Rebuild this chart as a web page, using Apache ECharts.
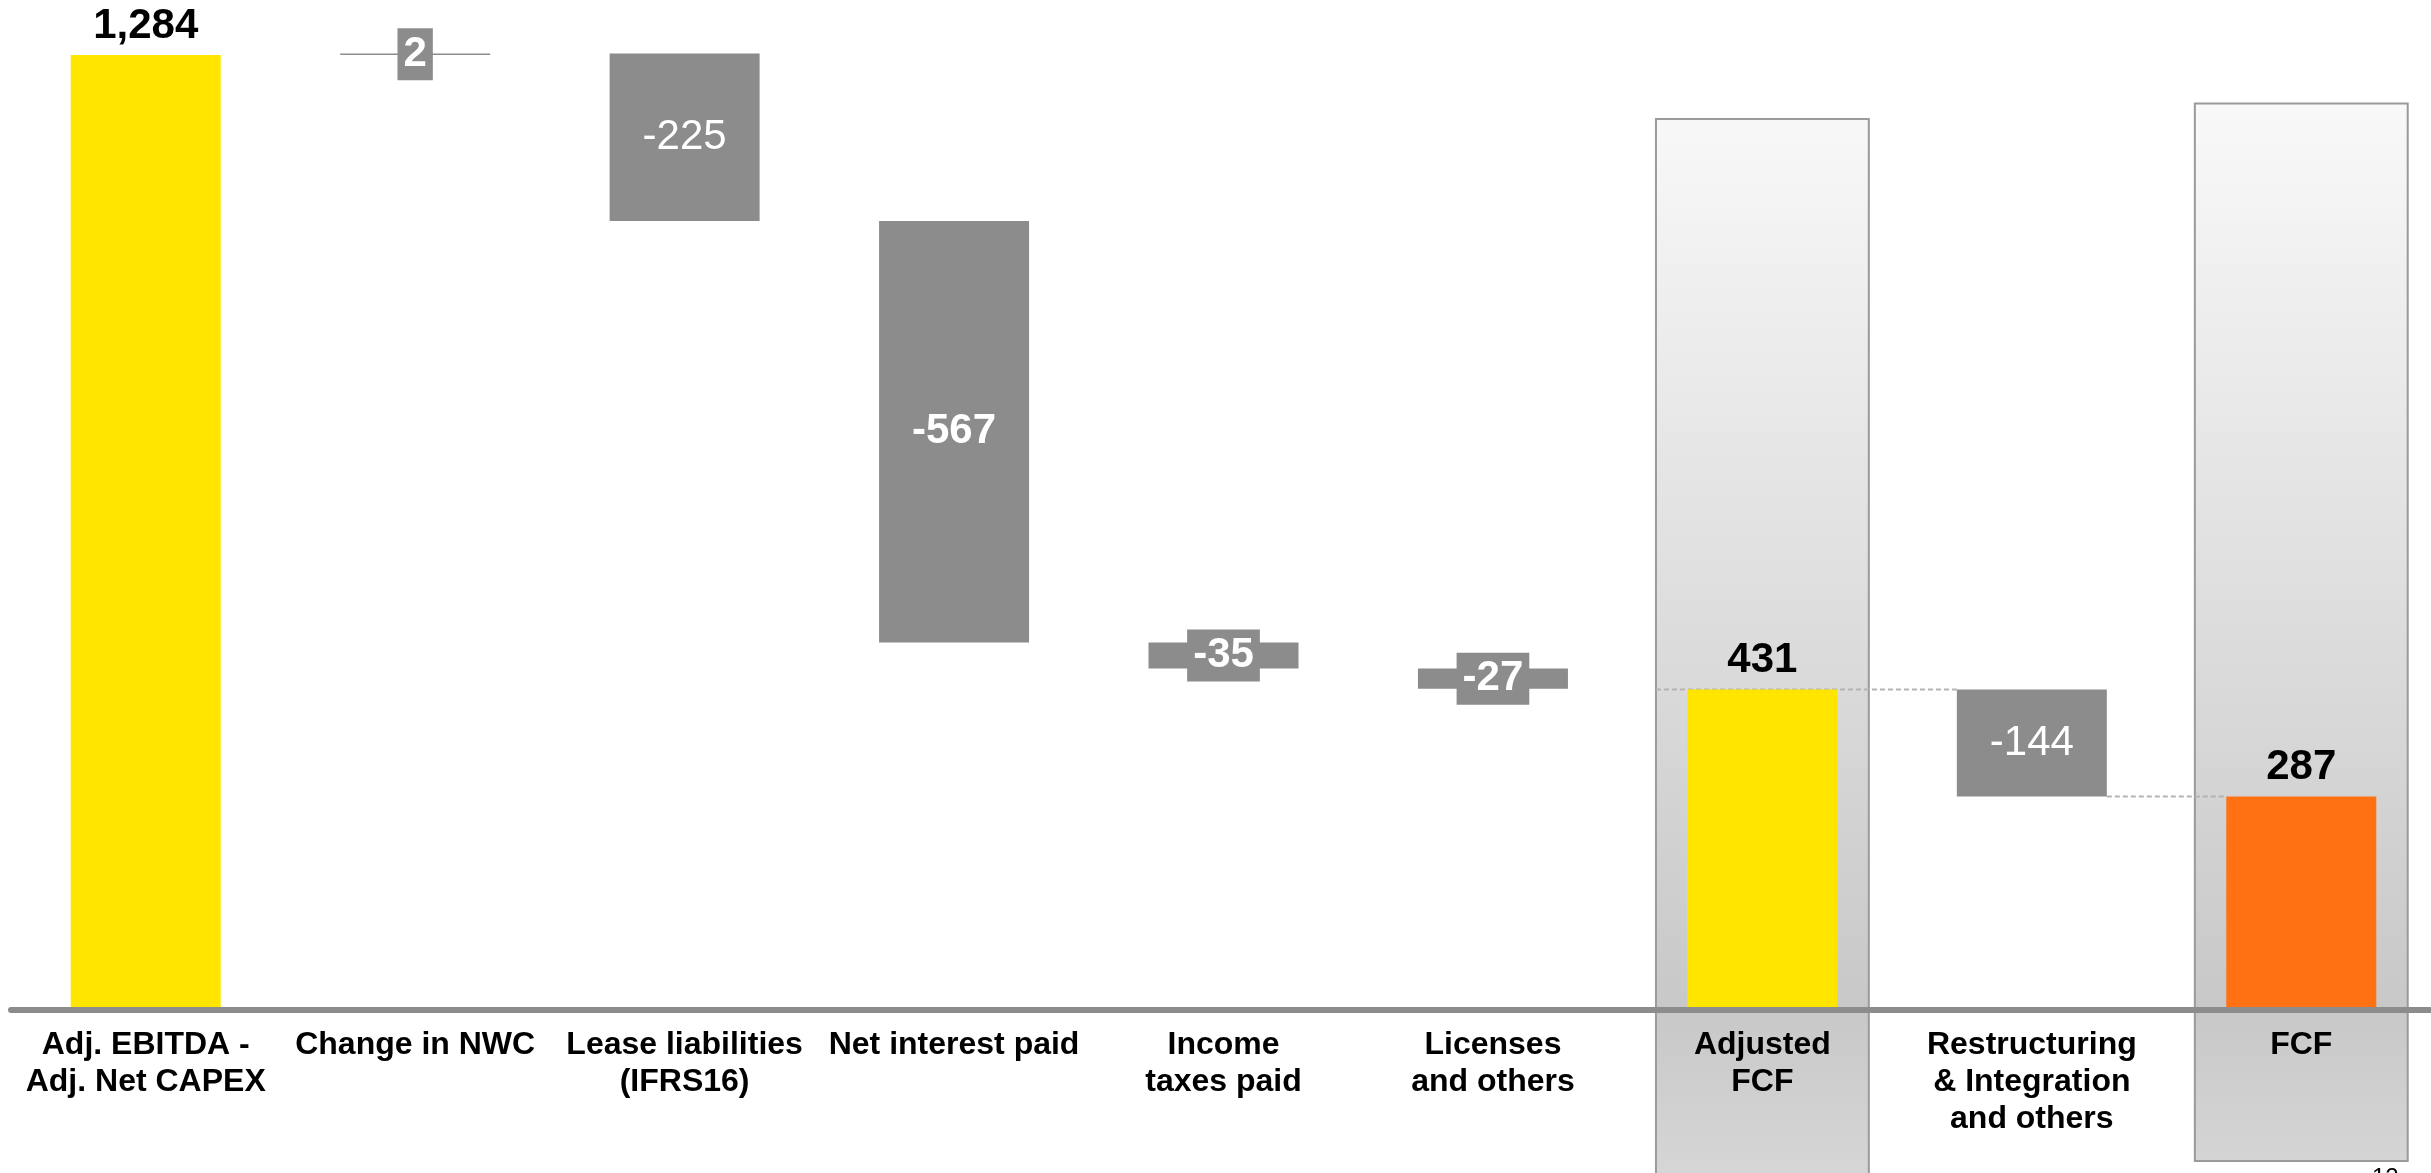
<!DOCTYPE html>
<html>
<head>
<meta charset="utf-8">
<script src="https://cdn.jsdelivr.net/npm/echarts@6/dist/echarts.min.js"></script>
<style>
html,body{margin:0;padding:0;background:#ffffff;overflow:hidden}
#chart{width:2431px;height:1173px}
</style>
</head>
<body>
<div id="chart"></div>
<script>
// ---- data ----
const categories = [
  'Adj. EBITDA -\nAdj. Net CAPEX',
  'Change in NWC',
  'Lease liabilities\n(IFRS16)',
  'Net interest paid',
  'Income\ntaxes paid',
  'Licenses\nand others',
  'Adjusted\nFCF',
  'Restructuring\n& Integration\nand others',
  'FCF'
];
const values = [1284, 2, -225, -567, -35, -27, 431, -144, 287];
const kinds = ['total', 'delta', 'delta', 'delta', 'delta', 'delta', 'total', 'delta', 'total'];
const valueLabels = ['1,284', '2', '-225', '-567', '-35', '-27', '431', '-144', '287'];
const highlightedCategories = [6, 8];
const connectors = [[6, 7, 431], [7, 8, 287]];

// ---- waterfall computation ----
const bases = [];
const heights = [];
let running = 0;
values.forEach((v, i) => {
  if (kinds[i] === 'total') {
    bases.push(0);
    heights.push(v);
    running = v;
  } else {
    const next = running + v;
    bases.push(Math.min(running, next));
    heights.push(Math.abs(v));
    running = next;
  }
});

// ---- styles ----
const YELLOW = '#FFE500';
const ORANGE = '#FF7113';
const GREY = '#8C8C8C';
const FONT = "'Liberation Sans', Arial, sans-serif";
const lastTotal = kinds.lastIndexOf('total');
const normalWeightIdx = new Set([2, 7]);
const BAR_W = 150;
const BOX_FRACTION = 0.79;
// box extents in axis units (layout only)
const boxTop = {6: 1198, 8: 1219};
const boxBottom = {6: -260, 8: -203};

const barData = heights.map((h, i) => {
  const isTotal = kinds[i] === 'total';
  const color = isTotal ? (i === lastTotal ? ORANGE : YELLOW) : GREY;
  const label = isTotal ? {
    show: true, position: 'top', distance: 8,
    color: '#000000', fontSize: 42, fontWeight: 'bold', fontFamily: FONT
  } : {
    show: true, position: 'inside',
    color: '#ffffff', fontSize: 42, fontFamily: FONT,
    fontWeight: normalWeightIdx.has(i) ? 'normal' : 'bold',
    backgroundColor: GREY, padding: [5, 6], lineHeight: 42
  };
  return {value: h, itemStyle: {color: color}, label: label};
});

const chart = echarts.init(document.getElementById('chart'), null, {renderer: 'canvas'});

const option = {
  animation: false,
  backgroundColor: '#ffffff',
  grid: {left: 11, top: 0, width: 2425, height: 1010, containLabel: false, outerBoundsMode: 'none'},
  xAxis: {
    type: 'category',
    data: categories,
    z: 10,
    axisLine: {show: true, lineStyle: {color: '#8C8C8C', width: 6}},
    axisTick: {show: false},
    axisLabel: {
      interval: 0, margin: 17,
      color: '#000000', fontSize: 32, fontWeight: 'bold', fontFamily: FONT,
      lineHeight: 37, align: 'center', verticalAlign: 'top'
    },
    splitLine: {show: false}
  },
  yAxis: {
    type: 'value', show: false, min: 0, max: 1358,
    splitLine: {show: false}
  },
  series: [
    {
      type: 'custom',
      name: 'highlight',
      z: 1,
      silent: true,
      clip: false,
      data: highlightedCategories.map(i => [i]),
      renderItem: function (params, api) {
        const idx = api.value(0);
        const band = api.size([1, 0])[0];
        const w = band * BOX_FRACTION;
        const cx = api.coord([idx, 0])[0];
        const y1 = api.coord([idx, boxTop[idx]])[1];
        const y2 = api.coord([idx, boxBottom[idx]])[1];
        return {
          type: 'rect',
          shape: {x: cx - w / 2, y: y1, width: w, height: y2 - y1},
          style: {
            fill: new echarts.graphic.LinearGradient(0, 100, 0, 1173, [
              {offset: 0, color: '#f9f9f9'},
              {offset: 0.848, color: '#c8c8c8'},
              {offset: 1, color: '#d6d6d6'}
            ], true),
            stroke: '#9a9a9a',
            lineWidth: 2
          }
        };
      }
    },
    {
      type: 'custom',
      name: 'connectors',
      z: 1,
      silent: true,
      clip: false,
      data: connectors,
      renderItem: function (params, api) {
        const from = api.value(0), to = api.value(1), v = api.value(2);
        const band = api.size([1, 0])[0];
        const p1 = api.coord([from, v]);
        const p2 = api.coord([to, v]);
        const startX = highlightedCategories.indexOf(from) >= 0
          ? p1[0] - band * BOX_FRACTION / 2
          : p1[0] + BAR_W / 2;
        const endX = p2[0] - BAR_W / 2;
        return {
          type: 'line',
          shape: {x1: startX, y1: p1[1], x2: endX, y2: p1[1]},
          style: {stroke: '#b4b4b4', lineWidth: 2, lineDash: [5, 3]}
        };
      }
    },
    {
      type: 'bar',
      name: 'base',
      stack: 'wf',
      barWidth: BAR_W,
      z: 2,
      silent: true,
      itemStyle: {color: 'rgba(0,0,0,0)'},
      data: bases
    },
    {
      type: 'bar',
      name: 'value',
      stack: 'wf',
      barWidth: BAR_W,
      z: 3,
      label: {
        formatter: function (p) { return valueLabels[p.dataIndex]; }
      },
      data: barData
    }
  ],
  graphic: [
    {
      type: 'text', left: 2372, top: 1166, z: 20,
      style: {text: '12', fontSize: 24, fill: '#000000', fontFamily: FONT}
    }
  ]
};

chart.setOption(option);
</script>
</body>
</html>
